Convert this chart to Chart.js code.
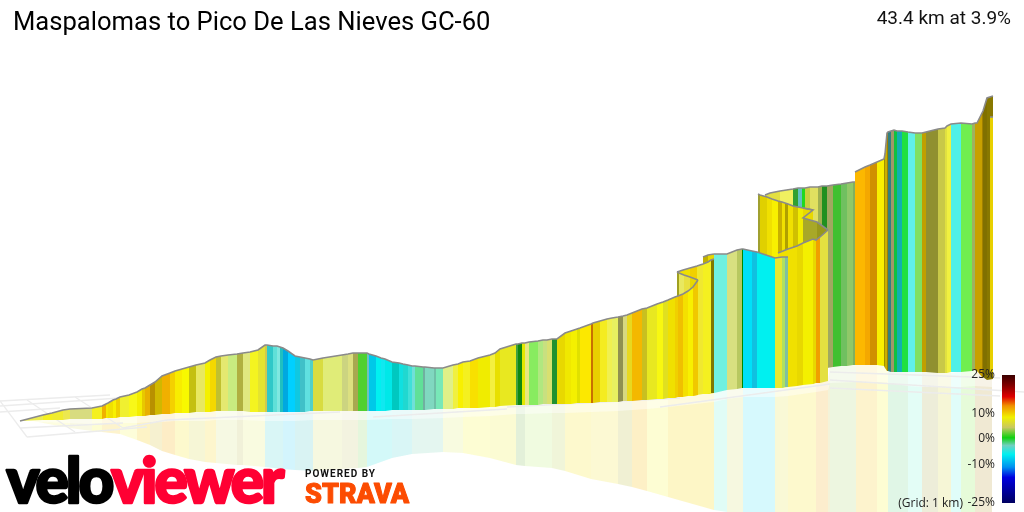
<!DOCTYPE html>
<html><head><meta charset="utf-8">
<style>html,body{margin:0;padding:0;background:#fff}canvas{display:block}</style>
<script src="https://cdn.jsdelivr.net/npm/chart.js@4"></script>
</head><body><canvas id="c" width="1024" height="512" style="width:1024px;height:512px"></canvas>
<script>
// Values (horizontal position, apparent top and foot of the wall)
const backX=[765,770,780,793,798,802,805,810,818,822,827,833,841,847,853,855];
const backTop=[195,193,191,189,188,188,188,187,187,186,186,185,184,183,182,182];
const backBase=[375,375,374,373,373,372,372,371,370,370,368,367,366,366,365,365];
const backCol=['#e0e040','#e4e040','#f0f060','#30a030','#60c0c0','#20d820','#c8d040','#e0e060','#a0b050','#209020','#a0a860','#40c030','#70c060','#90c868','#80b060'];

const peakX=[855,865,870,877,884,885,887,888,891,894,897,902,908,915,922,926,938,945,947,951,961,972,975,977,982,983,987,993];
const peakTop=[172,167,165,162,159,154,133,132,131,130,131,131,132,133,133,132,129,128,126,124,123,124,123,123,113,111,98,96];
const peakBase=[365,365,365,365,366,368,371,371,372,372,372,372,372,372,372,372,373,373,373,372,372,371,370,371,377,377,380,379];
const peakCol=['#fcb800','#f4a800','#d09000','#f8f000','#a09000','#c8b000','#a08000','#308080','#a09868','#10c040','#10b0b0','#20e040','#60f0e8','#80e060','#c0a000','#909030','#c8c848','#e0e040','#f0f040','#50f0e8','#70ee50','#a0b060','#c8a000','#c8a000','#a08000','#807000','#887800'];
const tipX=[990,993];const tipTop=[117,117];const tipBase=[373,372];const tipCol=['#e8d000'];

const wallX=[758,760,767,772,778,782,785,788,793,798,803,813];
const wallTop=[194,195,197,199,201,202,203,204,206,207,208,210];
const wallBase=[372,372,372,372,372,372,372,372,372,372,372,372];
const wallCol=['#a0a030','#e0d000','#f0e000','#f8f000','#c8b000','#f0e000','#b0a000','#f0e000','#d0c000','#f0ec00','#e8d800'];
const foldX=[803,817,828];const foldTop=[218,222,230];const foldBase=[300,300,300];const foldCol=['#a8a828','#98981c'];
const foldLineX=[803,813,803,817,828];const foldLineY=[208,210,218,222,230];

const rampX=[778,788,797,803,813,816,820,828];
const rampTop=[253,249,246,243,239,240,237,230];
const rampBase=[388,387,386,385,384,383,383,381];
const rampCol=['#f0e000','#f0e000','#e8d800','#f4f000','#e8d800','#f0a000','#e4e040'];

const midX=[714,727,737,742,743,752,757,775,782,785,788];
const midTop=[254,254,250,249,249,251,252,258,257,257,257];
const midBase=[393,390,389,388,388,388,388,388,388,387,387];
const midCol=['#70f0e0','#d8e080','#b8c860','#008800','#00e0f8','#10c0e0','#00f0f0','#e8e830','#b0e060','#80c0a0'];
const stepX=[703,708,714];const stepTop=[257,255,254];const stepBase=[394,394,393];const stepCol=['#c0b000','#e8d800'];

const loopX=[677,683,690,697,703,708,711,714];
const loopTop=[272,270,268,266,264,262,260,259];
const loopBase=[397,396,396,395,394,394,393,393];
const loopCol=['#f0e000','#f0e000','#f0d000','#f0e830','#f4f020','#f4f020','#807800'];
const turnX=[677,679,684,690,698];const turnTop=[272,273,275,277,280];const turnBase=[300,300,300,300,300];
const turnCol=['#a0a020','#e8e860','#e8e040','#e8d800'];

const climbX=[20,43,52,63,70,92,102,106,108,113,116,120,129,137,142,145,150,155,162,170,175,182,189,196,205,210,216,221,228,237,243,250,258,265,267,273,277,280,283,288,295,300,305,310,313,323,342,348,353,358,367,369,376,381,385,392,399,403,408,412,415,423,425,434,436,443,453,458,463,470,478,490,495,500,516,518,522,525,529,538,543,547,552,557,565,571,577,580,591,593,600,607,612,618,623,627,632,642,647,657,663,668,675,678,683,688,693,698];
const climbTop=[421,415,413,410,409,408,406,404,403,400,399,397,395,392,389,388,385,382,376,373,371,369,367,365,363,360,357,356,355,354,353,352,350,345,345,346,346,347,348,351,356,357,358,359,360,358,355,354,353,353,353,354,356,358,359,362,363,364,365,366,366,367,367,368,368,368,365,364,362,361,358,355,353,349,344,344,343,343,342,341,340,340,339,339,333,331,329,328,324,323,321,319,318,317,316,315,313,309,308,304,302,300,297,296,294,291,287,280];
const climbBase=[421,420,420,420,419,419,419,418,418,418,418,417,417,416,416,416,415,415,414,414,413,413,413,412,412,412,411,411,411,411,411,412,412,412,412,412,412,412,412,412,412,412,412,411,411,411,411,411,411,411,411,411,411,411,411,410,410,410,410,410,410,410,410,409,409,409,409,408,408,408,408,407,407,406,405,405,405,405,405,405,404,404,404,404,404,404,403,403,403,403,402,402,402,402,401,401,401,400,400,399,399,398,398,397,397,396,396,395];
const climbCol=['#ecec50','#f4f020','#f0ec30','#ece850','#d8dc80','#f4f020','#f0b000','#f4e800','#f0e000','#f8f000','#f0d000','#f0f030','#f8f818','#f4ee00','#e8c800','#e8b000','#b89000','#d0b800','#f0b000','#f4d000','#f8ec00','#f8f800','#c4c010','#e8e860','#f4f000','#f4d800','#c0c030','#e4e870','#c8ec80','#b0b040','#e0e880','#f4f420','#e4e430','#d0c850','#30c8c8','#60e0d8','#80e8e0','#20c0c0','#00a8e0','#00d0ff','#10c8e0','#40c0c8','#60e0e0','#50d0c8','#d8dc40','#e0ec78','#ccd480','#dce080','#a8a850','#50d030','#70c0c0','#00c8e8','#00f0f0','#10e8f0','#00e8e8','#00c8c0','#10e0e0','#20d8d0','#40e0d8','#70e0d8','#60e098','#70b0a0','#80d8c0','#70c0a8','#78e8b8','#e0f088','#f0f040','#f8f000','#f4f020','#f8e000','#f0ec00','#f4f040','#e8e000','#e8e820','#40a040','#108810','#e4e800','#e8e880','#88ec60','#b0e880','#c8e080','#d8e070','#209030','#e8d800','#f0e800','#f4f000','#e0e000','#fce800','#c87000','#e8d000','#f4ec20','#f0f050','#e8f060','#909050','#d8d880','#e8d820','#f4b800','#c8c020','#e8e820','#f8f810','#e0e020','#f0e000','#f0d000','#f0c000','#f4e000','#f8f000','#f0c800'];

const mirrorX=[20,33,43,70,92,102,120,137,150,162,175,189,205,216,237,243,265,283,295,313,342,358,367,392,412,443,463,490,516,525,552,565,591,618,632,647,668,714,727,743,775,788,816,828,830,856,877,888,908,922,938,951,961,975,992];
const mirrorTop=[421,421,420,419,419,419,417,416,415,414,413,413,412,411,411,411,412,412,412,411,411,411,411,410,410,409,408,407,405,405,404,404,403,402,401,400,398,393,390,388,388,387,383,381,367,365,365,367,371,372,372,373,372,371,372];
const mirrorFade=[421,421,422,423,424,424,423,423,422,422,421,421,421,420,420,420,421,421,421,420,420,420,420,419,419,418,417,416,414,414,413,413,412,411,410,409,407,402,399,397,397,396,392,390,383,382,382,383,386,387,387,388,387,386,387];
const mirrorLow=[421,421,423,428,431,432,434,440,445,451,455,459,462,463,465,465,467,469,470,471,469,468,467,458,454,452,453,458,465,466,468,471,479,484,487,491,497,510,512,512,512,512,512,512,512,512,512,512,512,512,512,512,512,512,512];
const mirrorCol=['#fdfde0','#fdfde0','#fdfdd8','#f6f6dc','#fcfcc8','#fdf0c0','#fdfdd0','#fcf0b8','#f4eec4','#fde8b8','#fdf8c0','#f4f4cc','#fdf4c0','#f4f8dc','#eeeed0','#f8fad8','#d0f4f4','#c8f2fc','#d0f0f0','#f4f6d8','#f0f0d8','#dff4d4','#c8f8f8','#d0f4f4','#ddf4ec','#f6fad8','#fcfcc8','#fafac8','#dcecd0','#ecfad8','#ecf2d0','#fcf8c0','#fbf8c8','#ececc8','#fcecb8','#fcfcc8','#fcf4b8','#d8fbf4','#f4f6d8','#ccf8fc','#f8f8cc','#fcf8c0','#fbe8c0','#f0f0d0','#e8f4d8','#fcf0c0','#fdfdc8','#d8f4e0','#dcfcf4','#e8e8d0','#f4f4cc','#d8fcf8','#e0fad0','#ece4c8'];

const gridFromX=[0,0,0,20,27,0,27,75,123,167,373,507,660,830,830,830];
const gridFromY=[401,406,412,428,437,401,400,397,428,420,417,407,407,372,380,388];
const gridToX=[110,120,60,123,147,27,75,123,167,340,507,680,830,1000,1024,1000];
const gridToY=[395,398,408,423,427,437,432,428,420,412,409,398,384,378,392,396];

const legendTicks=[25,10,0,-10,-25];
const legendStops=[[0,'#3a0000'],[.08,'#800000'],[.17,'#e00000'],[.24,'#f09000'],[.33,'#f0f000'],[.41,'#c8c860'],[.49,'#10d010'],[.55,'#70d0c0'],[.62,'#00f0f0'],[.72,'#0090f0'],[.8,'#0000e0'],[1,'#000060']];
const legendX=[1002,1015];const legendTop=[375,375];const legendBase=[503,503];

const titleText='Maspalomas to Pico De Las Nieves GC-60';
const summaryText='43.4 km at 3.9%';
const gridNote='(Grid: 1 km)';

const datasets=[];
function pts(xs,ys){return xs.map((x,i)=>({x,y:ys[i]}));}
function push(d){d.order=100000-datasets.length;d.pointRadius=0;d.showLine=true;d.tension=0;datasets.push(d);}
function band(xs,tops,lows,colour){
  push({data:pts(xs,tops),fill:'+1',backgroundColor:colour,borderWidth:0});
  push({data:pts(xs,lows),fill:false,borderWidth:0});
}
function wall(xs,tops,lows,cols,outline){
  cols.forEach((c,i)=>band([xs[i],xs[i+1]],[tops[i],tops[i+1]],[lows[i],lows[i+1]],c));
  if(outline!==false) line(xs,tops,'#8a8a8a',1.6);
}
function line(xs,ys,colour,w){push({data:pts(xs,ys),borderColor:colour,borderWidth:w,fill:false});}

wall(mirrorX,mirrorTop,mirrorLow,mirrorCol.map(c=>c+'cc'),false);
band(mirrorX,mirrorTop,mirrorFade,'rgba(255,255,255,0.45)');
gridFromX.forEach((x,i)=>line([x,gridToX[i]],[gridFromY[i],gridToY[i]],'#ececec',1.3));
wall(backX,backTop,backBase,backCol);
wall(peakX,peakTop,peakBase,peakCol);
wall(tipX,tipTop,tipBase,tipCol);
wall(wallX,wallTop,wallBase,wallCol);
wall(foldX,foldTop,foldBase,foldCol,false);
line(foldLineX,foldLineY,'#8a8a8a',1.6);
wall(rampX,rampTop,rampBase,rampCol);
wall(stepX,stepTop,stepBase,stepCol);
wall(midX,midTop,midBase,midCol);
wall(loopX,loopTop,loopBase,loopCol);
wall(turnX,turnTop,turnBase,turnCol);
wall(climbX,climbTop,climbBase,climbCol);

const canvas=document.getElementById('c');
const g=canvas.getContext('2d').createLinearGradient(0,legendTop[0],0,legendBase[0]);
legendStops.forEach(s=>g.addColorStop(s[0],s[1]));
band(legendX,legendTop,legendBase,g);

const textPlugin={id:'texts',afterDraw(chart){
  const c=chart.ctx;c.save();c.textBaseline='alphabetic';
  c.fillStyle='#000';c.textAlign='left';c.font='25.6px Roboto';c.fillText(titleText,13,30);
  c.textAlign='right';c.font='19px Roboto';c.fillStyle='#111';c.fillText(summaryText,1011,24);
  c.font='12px "Open Sans"';c.fillStyle='#222';c.fillText(gridNote,963,507);
  c.textAlign='left';c.font='900 62px Lato';c.letterSpacing='-3px';c.lineJoin='round';
  c.lineWidth=2.5;
  c.fillStyle='#000';c.strokeStyle='#000';c.fillText('velo',6.5,503);c.strokeText('velo',6.5,503);
  const w=c.measureText('velo').width;
  c.fillStyle='#ff0033';c.strokeStyle='#ff0033';c.fillText('viewer',6.5+w,503);c.strokeText('viewer',6.5+w,503);
  c.letterSpacing='1px';c.fillStyle='#111';c.font='bold 10px Roboto';c.fillText('POWERED BY',305,477);
  c.letterSpacing='0px';c.fillStyle='#fc4c02';c.strokeStyle='#fc4c02';c.lineWidth=1;c.font='900 27px Roboto';c.fillText('STRAVA',305,503);c.strokeText('STRAVA',305,503);
  c.restore();
}};

new Chart(canvas,{type:'scatter',data:{datasets},plugins:[textPlugin],options:{
  responsive:false,animation:false,devicePixelRatio:1,events:[],
  layout:{padding:0},
  plugins:{legend:{display:false},tooltip:{enabled:false},title:{display:false}},
  scales:{
    x:{type:'linear',min:0,max:1024,display:false},
    y:{type:'linear',min:0,max:512,reverse:true,display:false},
    g:{type:'linear',axis:'y',position:{x:995},min:-28.516,max:171.484,
      grid:{display:false,drawTicks:false},border:{display:false},
      afterBuildTicks(s){s.ticks=legendTicks.map(v=>({value:v}));},
      afterFit(s){s.paddingTop=0;s.paddingBottom=0;},
      ticks:{padding:0,z:2,autoSkip:false,color:'#222',font:{family:'"Open Sans"',size:12},callback:v=>v+'%'}}
  }
}});
</script></body></html>
